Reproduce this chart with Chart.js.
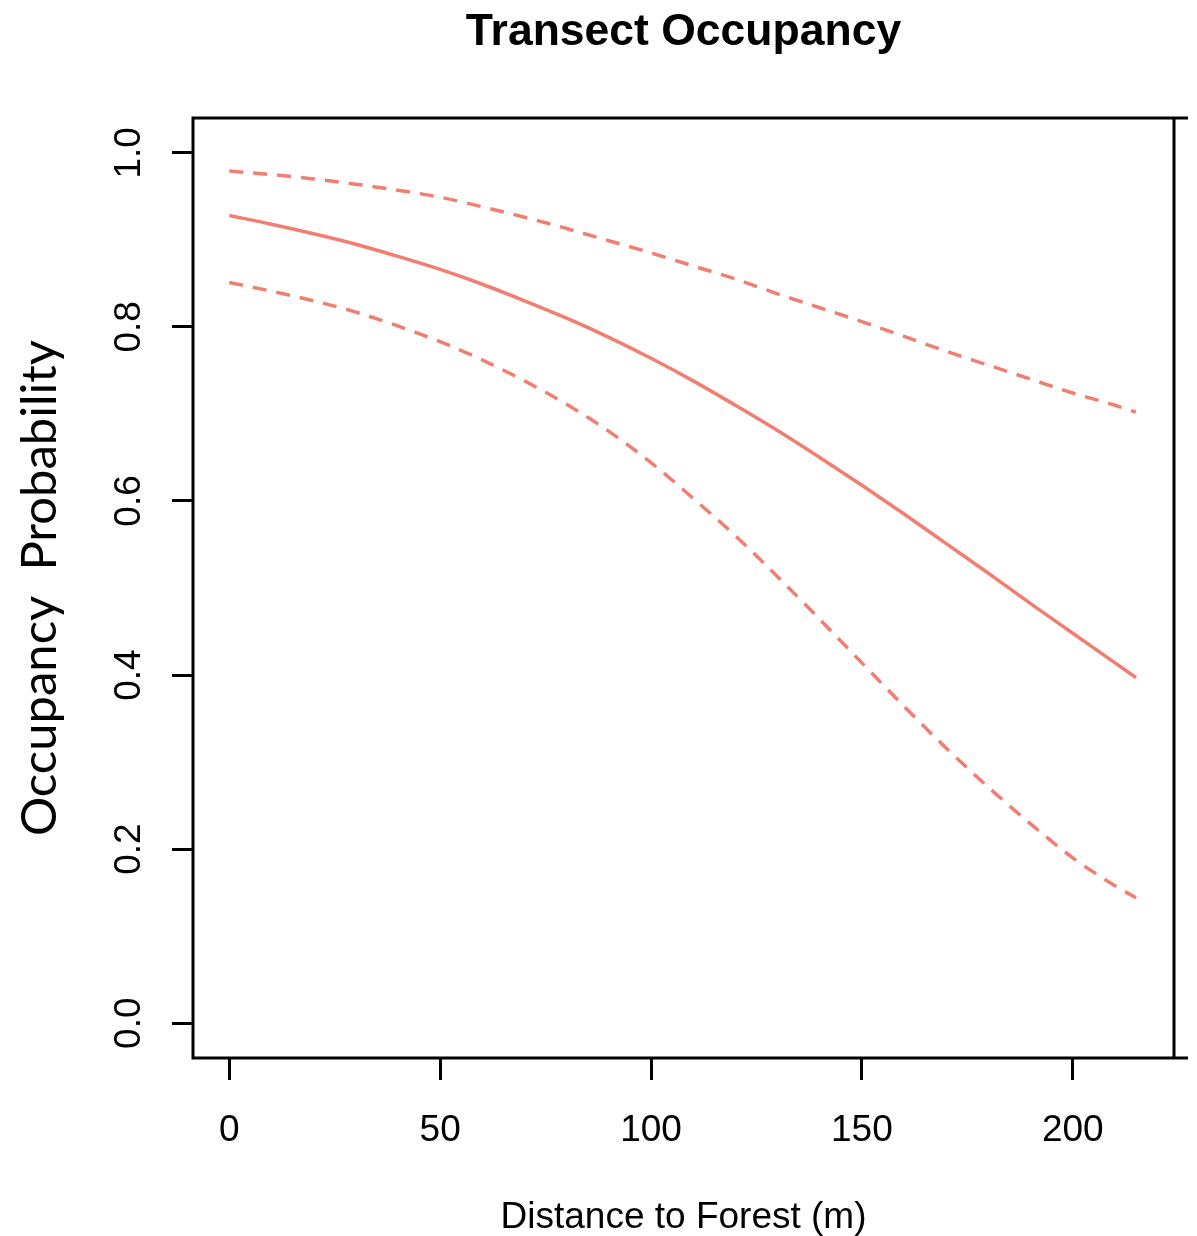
<!DOCTYPE html>
<html>
<head>
<meta charset="utf-8">
<title>Transect Occupancy</title>
<script src="https://cdn.jsdelivr.net/npm/chart.js@4.4.1/dist/chart.umd.min.js"></script>
<style>
  html, body { margin: 0; padding: 0; background: #ffffff; }
  #wrap { width: 1197px; height: 1236px; position: relative; }
</style>
</head>
<body>
<div id="wrap"><canvas id="grafico"></canvas></div>
<script>
// Datos
const distance = [0, 10, 20, 30, 40, 50, 60, 70, 80, 90, 100, 110, 120, 130, 140, 150, 160, 170, 180, 190, 200, 210, 215];
const occupancy = [0.928, 0.918, 0.907, 0.895, 0.881, 0.866, 0.849, 0.830, 0.810, 0.788, 0.764, 0.738, 0.710, 0.681, 0.650, 0.618, 0.585, 0.551, 0.517, 0.482, 0.448, 0.414, 0.397];
const upperCI = [0.979, 0.975, 0.970, 0.964, 0.957, 0.949, 0.938, 0.926, 0.913, 0.899, 0.885, 0.870, 0.855, 0.838, 0.822, 0.806, 0.789, 0.772, 0.756, 0.740, 0.724, 0.710, 0.702];
const lowerCI = [0.851, 0.841, 0.830, 0.817, 0.801, 0.783, 0.762, 0.738, 0.711, 0.680, 0.644, 0.603, 0.560, 0.513, 0.464, 0.414, 0.364, 0.316, 0.271, 0.229, 0.190, 0.158, 0.144];

const xTicks = [0, 50, 100, 150, 200];
const yTicks = [0, 0.2, 0.4, 0.6, 0.8, 1.0];

const chartTitle = 'Transect Occupancy';
const lineColor = '#F07F72';
const axisFont = "'Liberation Sans', Arial, sans-serif";

function toPoints(ys) {
    return distance.map((d, i) => ({ x: d, y: ys[i] }));
}

// Marco estilo R (con las lineas de arriba y abajo algo prolongadas) y titulo centrado sobre el panel
const framePlugin = {
    id: 'frame',
    afterDraw(chart) {
        const { ctx, chartArea } = chart;
        const { left, right, top, bottom } = chartArea;
        ctx.save();
        ctx.strokeStyle = '#000';
        ctx.lineWidth = 3;
        ctx.beginPath();
        ctx.moveTo(left, top); ctx.lineTo(right + 14, top);
        ctx.moveTo(left, bottom); ctx.lineTo(right + 14, bottom);
        ctx.moveTo(left, top - 1.5); ctx.lineTo(left, bottom + 1.5);
        ctx.moveTo(right, top - 1.5); ctx.lineTo(right, bottom + 1.5);
        ctx.stroke();

        ctx.fillStyle = '#000';
        ctx.font = "bold 44.5px " + axisFont;
        ctx.textAlign = 'center';
        ctx.textBaseline = 'alphabetic';
        ctx.fillText(chartTitle, (left + right) / 2, 45);
        ctx.restore();
    }
};

const ctx = document.getElementById('grafico').getContext('2d');
const grafico = new Chart(ctx, {
    type: 'line',
    data: {
        datasets: [
            {
                label: 'Occupancy',
                data: toPoints(occupancy),
                borderColor: lineColor,
                borderWidth: 3.5,
                pointRadius: 0,
                cubicInterpolationMode: 'monotone'
            },
            {
                label: 'Upper',
                data: toPoints(upperCI),
                borderColor: lineColor,
                borderWidth: 3.5,
                borderDash: [14, 10],
                pointRadius: 0,
                cubicInterpolationMode: 'monotone'
            },
            {
                label: 'Lower',
                data: toPoints(lowerCI),
                borderColor: lineColor,
                borderWidth: 3.5,
                borderDash: [14, 10],
                pointRadius: 0,
                cubicInterpolationMode: 'monotone'
            }
        ]
    },
    options: {
        responsive: true,
        maintainAspectRatio: false,
        animation: false,
        layout: { padding: { left: 0, right: 23, top: 118, bottom: -4 } },
        plugins: {
            legend: { display: false },
            tooltip: { enabled: false },
            title: { display: false }
        },
        scales: {
            x: {
                type: 'linear',
                min: -8.6,
                max: 224,
                afterBuildTicks: (scale) => { scale.ticks = xTicks.map(v => ({ value: v })); },
                afterFit: (scale) => { scale.height = 182; scale.paddingLeft = 0; scale.paddingRight = 0; },
                border: { display: false },
                grid: { drawOnChartArea: false, drawTicks: true, tickLength: 22, color: '#000', lineWidth: 3 },
                ticks: { color: '#000', font: { family: axisFont, size: 37 }, padding: 29, maxRotation: 0 },
                title: {
                    display: true,
                    text: 'Distance to Forest (m)',
                    color: '#000',
                    font: { family: axisFont, size: 37 },
                    padding: { top: 0, bottom: 0 }
                }
            },
            y: {
                type: 'linear',
                min: -0.04,
                max: 1.04,
                afterBuildTicks: (scale) => { scale.ticks = yTicks.map(v => ({ value: v })); },
                afterFit: (scale) => { scale.width = 193; scale.paddingTop = 0; scale.paddingBottom = 0; },
                border: { display: false },
                grid: { drawOnChartArea: false, drawTicks: true, tickLength: 21, color: '#000', lineWidth: 3 },
                ticks: {
                    color: '#000',
                    font: { family: axisFont, size: 37 },
                    padding: 16,
                    minRotation: 90,
                    maxRotation: 90,
                    crossAlign: 'center',
                    callback: (v) => v.toFixed(1)
                },
                title: {
                    display: true,
                    text: 'Occupancy  Probability',
                    color: '#000',
                    font: { family: "Lato, 'Open Sans', sans-serif", size: 49 },
                    padding: { top: 11, bottom: 0 }
                }
            }
        }
    },
    plugins: [framePlugin]
});
</script>
</body>
</html>
